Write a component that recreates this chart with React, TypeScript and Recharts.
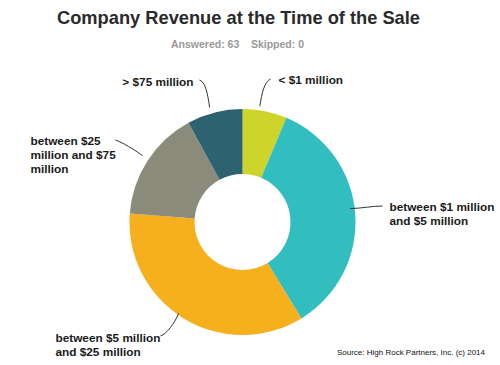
import React from 'react';
import { PieChart, Pie, Cell } from 'recharts';

const categories = [
  '< $1 million',
  'between $1 million and $5 million',
  'between $5 million and $25 million',
  'between $25 million and $75 million',
  '> $75 million',
];
const counts = [4, 22, 22, 10, 5];
const labelLines = [
  ['< $1 million'],
  ['between $1 million', 'and $5 million'],
  ['between $5 million', 'and $25 million'],
  ['between $25', 'million and $75', 'million'],
  ['> $75 million'],
];
const colors = ['#cdd52a', '#32bdbe', '#f6b01e', '#8a8b7b', '#2d6370'];

const data = categories.map((name, i) => ({ name, value: counts[i] }));

// label layout (relative to pie center): leader end, curve controls, text position
const layout = [
  { end: [33, -138], c1: [2, -14], c2: [-6, 3], tx: 41, ty: -137, anchor: 'start' },
  { end: [145, -11], c1: [10, 0], c2: [-10, 0], tx: 152, ty: -10, anchor: 'start' },
  { end: [-77, 119], c1: [-4, 10], c2: [6, -2], tx: -182, ty: 121, anchor: 'start' },
  { end: [-122, -77], c1: [-8, -6], c2: [6, 2], tx: -207, ty: -76, anchor: 'start' },
  { end: [-38, -137], c1: [-2, -14], c2: [6, 2], tx: -44, ty: -135, anchor: 'end' },
];

const CX = 237.5;
const CY = 217;
const OUTER = 113;

const renderLabel = (props: any) => {
  const { index, midAngle } = props;
  const RAD = Math.PI / 180;
  const sx = CX + OUTER * Math.cos(-midAngle * RAD);
  const sy = CY + OUTER * Math.sin(-midAngle * RAD);
  const L = layout[index];
  const ex = CX + L.end[0];
  const ey = CY + L.end[1];
  const d = `M${sx},${sy} C${sx + L.c1[0]},${sy + L.c1[1]} ${ex + L.c2[0]},${ey + L.c2[1]} ${ex},${ey}`;
  return (
    <g key={`lab-${index}`}>
      <path d={d} stroke="#333" strokeWidth={1} fill="none" />
      <text
        x={CX + L.tx}
        y={CY + L.ty}
        textAnchor={L.anchor}
        fontFamily="'Liberation Sans', Arial, sans-serif"
        fontWeight="bold"
        fontSize={11.8}
        fill="#1a1a1a"
      >
        {labelLines[index].map((ln, j) => (
          <tspan key={j} x={CX + L.tx} dy={j === 0 ? '0.35em' : 14}>
            {ln}
          </tspan>
        ))}
      </text>
    </g>
  );
};

export default function App() {
  return (
    <div style={{ position: 'absolute', left: 0, top: 0, width: 500, height: 365, background: '#fff' }}>
      <PieChart width={500} height={365}>
        <text
          x={238.5}
          y={17}
          textAnchor="middle"
          dominantBaseline="central"
          fontFamily="'Liberation Sans', Arial, sans-serif"
          fontWeight="bold"
          fontSize={19}
          textLength={363}
          lengthAdjust="spacingAndGlyphs"
          fill="#2a2a2a"
        >
          Company Revenue at the Time of the Sale
        </text>
        <text
          x={237.5}
          y={44}
          textAnchor="middle"
          dominantBaseline="central"
          fontFamily="'Liberation Sans', Arial, sans-serif"
          fontWeight="bold"
          fontSize={10.5}
          fill="#999"
          style={{ whiteSpace: 'pre' }}
        >
          {'Answered: 63    Skipped: 0'}
        </text>
        <Pie
          data={data}
          dataKey="value"
          nameKey="name"
          cx={CX}
          cy={CY}
          innerRadius={48}
          outerRadius={OUTER}
          startAngle={90}
          endAngle={-270}
          stroke="none"
          isAnimationActive={false}
          label={renderLabel}
          labelLine={false}
        >
          {data.map((d, i) => (
            <Cell key={d.name} fill={colors[i]} />
          ))}
        </Pie>
        <text
          x={485}
          y={352}
          textAnchor="end"
          dominantBaseline="central"
          fontFamily="'Liberation Sans Narrow', 'Liberation Sans', Arial, sans-serif"
          fontSize={8}
          fill="#111"
        >
          Source: High Rock Partners, Inc. (c) 2014
        </text>
      </PieChart>
    </div>
  );
}
